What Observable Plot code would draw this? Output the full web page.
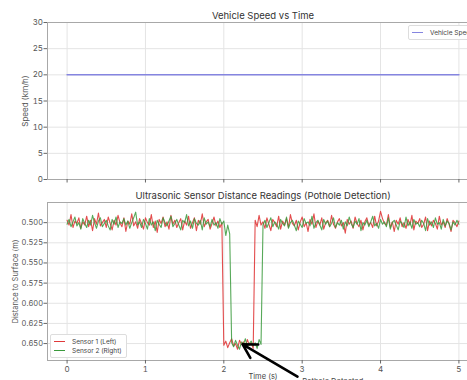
<!DOCTYPE html>
<html>
<head>
<meta charset="utf-8">
<script src="https://cdn.jsdelivr.net/npm/d3@7"></script>
<script src="https://cdn.jsdelivr.net/npm/@observablehq/plot@0.6"></script>
<style>
  html, body { margin: 0; padding: 0; background: #fff; overflow: hidden; }
  #wrap { position: relative; width: 467px; height: 380px; overflow: hidden; font-family: Inter, "Open Sans", sans-serif; }
  #wrap svg { display: block; max-width: none !important; }
  .legend { position: absolute; background: #fff; border: 1px solid #ddd; border-radius: 2px; font-size: 6.5px; color: #444; }
  .legend .row { display: flex; align-items: center; height: 9px; white-space: nowrap; }
  .legend .sw { display: inline-block; width: 11px; height: 0; margin-right: 7px; }
</style>
</head>
<body>
<div id="wrap"></div>
<script>
// ---- data ----
const speedTime = [0, 5];
const speedValues = [20, 20]; // km/h
const xTicks = [0, 1, 2, 3, 4, 5];
const speedTicks = [0, 5, 10, 15, 20, 25, 30];
const distTicks = [0.500, 0.525, 0.550, 0.575, 0.600, 0.625, 0.650];
const sampleStep = 0.025; // s between readings

const sensor1 = [
  0.497,0.503,0.490,0.506,0.498,0.501,0.494,0.507,0.499,0.503,0.492,0.505,0.497,0.510,0.495,0.502,0.488,0.504,0.500,0.496,
  0.506,0.493,0.501,0.509,0.497,0.503,0.491,0.500,0.505,0.494,0.511,0.498,0.502,0.489,0.504,0.499,0.507,0.495,0.501,0.508,
  0.494,0.500,0.503,0.490,0.506,0.498,0.512,0.496,0.501,0.493,0.505,0.499,0.508,0.491,0.502,0.497,0.506,0.500,0.495,0.509,
  0.498,0.503,0.492,0.507,0.500,0.494,0.510,0.497,0.502,0.489,0.505,0.499,0.496,0.508,0.501,0.493,0.504,0.498,0.506,0.500,
  0.652,0.647,0.655,0.649,0.644,0.653,0.650,0.657,0.646,0.651,0.648,0.654,0.645,0.652,0.649,0.656,0.497,0.505,0.491,0.503,
  0.499,0.507,0.494,0.502,0.510,0.496,0.500,0.505,0.492,0.508,0.498,0.503,0.495,0.506,0.490,0.501,0.504,0.497,0.509,0.499,
  0.493,0.505,0.500,0.511,0.496,0.502,0.489,0.506,0.498,0.503,0.494,0.508,0.500,0.497,0.505,0.491,0.502,0.507,0.499,0.495,
  0.504,0.500,0.513,0.496,0.502,0.498,0.507,0.493,0.501,0.505,0.497,0.509,0.499,0.494,0.503,0.500,0.506,0.492,0.504,0.498,
  0.486,0.495,0.501,0.503,0.490,0.506,0.499,0.511,0.497,0.502,0.494,0.505,0.500,0.507,0.496,0.503,0.491,0.509,0.498,0.501,
  0.495,0.506,0.502,0.493,0.510,0.498,0.504,0.497,0.501,0.508,0.492,0.503,0.499,0.506,0.495,0.502,0.511,0.497,0.500,0.505,
  0.498
];
const sensor2 = [
  0.502,0.496,0.505,0.499,0.493,0.504,0.500,0.508,0.495,0.501,0.506,0.497,0.503,0.491,0.500,0.507,0.498,0.494,0.505,0.501,
  0.497,0.504,0.509,0.496,0.502,0.493,0.506,0.499,0.501,0.495,0.503,0.498,0.507,0.500,0.494,0.487,0.503,0.499,0.506,0.496,
  0.501,0.508,0.495,0.503,0.499,0.510,0.497,0.502,0.506,0.494,0.500,0.504,0.498,0.492,0.505,0.501,0.496,0.503,0.509,0.497,
  0.500,0.490,0.504,0.498,0.507,0.495,0.501,0.503,0.497,0.509,0.494,0.502,0.499,0.505,0.496,0.503,0.500,0.507,0.495,0.502,
  0.498,0.516,0.503,0.514,0.649,0.654,0.646,0.652,0.657,0.648,0.651,0.644,0.655,0.650,0.647,0.653,0.649,0.656,0.645,0.651,
  0.503,0.497,0.506,0.500,0.494,0.505,0.499,0.502,0.508,0.496,0.501,0.504,0.493,0.507,0.500,0.497,0.503,0.510,0.498,0.502,
  0.506,0.495,0.501,0.499,0.504,0.492,0.507,0.500,0.497,0.503,0.509,0.496,0.502,0.498,0.505,0.501,0.494,0.506,0.500,0.503,
  0.497,0.508,0.499,0.504,0.493,0.501,0.506,0.498,0.502,0.495,0.510,0.500,0.503,0.497,0.505,0.499,0.492,0.504,0.501,0.507,
  0.496,0.502,0.499,0.505,0.494,0.508,0.500,0.497,0.503,0.509,0.498,0.501,0.506,0.493,0.504,0.499,0.507,0.496,0.502,0.500,
  0.505,0.497,0.501,0.510,0.495,0.503,0.499,0.506,0.494,0.502,0.500,0.508,0.496,0.504,0.498,0.501,0.509,0.499,0.503,0.497,
  0.502
];
const seriesNames = ["Sensor 1 (Left)", "Sensor 2 (Right)"];
const seriesColors = ["#e0393a", "#3a9a3c"];
const speedColor = "#8585e0";
const annotation = { text: "Pothole Detected", tx: 3.0, ty: 0.697, x1: 2.94, y1: 0.691, x2: 2.24, y2: 0.651 };

// ---- build tables ----
const s1 = sensor1.map((d, i) => ({t: i * sampleStep, d, s: seriesNames[0]}));
const s2 = sensor2.map((d, i) => ({t: i * sampleStep, d, s: seriesNames[1]}));
const speed = speedTime.map((t, i) => ({t, v: speedValues[i]}));

const FONT = "Inter, 'Open Sans', sans-serif";
const gridColor = "#e4e4e4";
const frameColor = "#a8a8a8";
const xDomain = [-0.25, 5.25];

const topChart = Plot.plot({
  width: 480, height: 186,
  marginLeft: 47, marginRight: 2, marginTop: 22, marginBottom: 7,
  style: {fontFamily: FONT, fontSize: "8px", color: "#555", background: "#fff", maxWidth: "none"},
  x: {domain: xDomain},
  y: {domain: [0, 30]},
  marks: [
    Plot.gridX(xTicks, {stroke: gridColor, strokeOpacity: 1}),
    Plot.gridY(speedTicks, {stroke: gridColor, strokeOpacity: 1}),
    Plot.frame({stroke: frameColor}),
    Plot.axisX(xTicks, {tickSize: 3.5, tickFormat: () => "", label: null, stroke: "#666"}),
    Plot.axisY(speedTicks, {tickSize: 3.5, tickPadding: 1, label: "Speed (km/h)", labelAnchor: "center", labelOffset: 25, labelArrow: "none", stroke: "#666", fontSize: 8}),
    Plot.line(speed, {x: "t", y: "v", stroke: speedColor, strokeWidth: 1.5}),
    Plot.text(["Vehicle Speed vs Time"], {frameAnchor: "top", dy: -10, fontSize: 9.5, fill: "#333"})
  ]
});

const bottomChart = Plot.plot({
  width: 480, height: 194,
  marginLeft: 47, marginRight: 2, marginTop: 16, marginBottom: 20,
  style: {fontFamily: FONT, fontSize: "8px", color: "#555", background: "#fff", maxWidth: "none"},
  x: {domain: xDomain},
  y: {domain: [0.475, 0.671], reverse: true},
  marks: [
    Plot.gridX(xTicks, {stroke: gridColor, strokeOpacity: 1}),
    Plot.gridY(distTicks, {stroke: gridColor, strokeOpacity: 1}),
    Plot.frame({stroke: frameColor}),
    Plot.axisX(xTicks, {tickSize: 3.5, tickPadding: 2, tickFormat: d3.format("d"), label: null, stroke: "#666", fontSize: 8}),
    Plot.axisY(distTicks, {tickSize: 3.5, tickPadding: 1, tickFormat: d3.format(".3f"), label: "Distance to Surface (m)", labelAnchor: "center", labelOffset: 35, labelArrow: "none", stroke: "#666", fontSize: 7.5}),
    Plot.line(s1, {x: "t", y: "d", stroke: seriesColors[0], strokeWidth: 1.1, strokeOpacity: 0.9}),
    Plot.line(s2, {x: "t", y: "d", stroke: seriesColors[1], strokeWidth: 1.1, strokeOpacity: 0.85}),
    Plot.arrow([annotation], {x1: "x1", y1: "y1", x2: "x2", y2: "y2", stroke: "#000", strokeWidth: 2.6, headLength: 9, clip: false}),
    Plot.text([annotation], {x: "tx", y: "ty", text: "text", textAnchor: "start", fontSize: 7.5, fill: "#444", clip: false}),
    Plot.text(["Time (s)"], {frameAnchor: "bottom", dy: 18, fontSize: 7.5, fill: "#444"}),
    Plot.text(["Ultrasonic Sensor Distance Readings (Pothole Detection)"], {frameAnchor: "top", dy: -10, fontSize: 9.5, fill: "#333"})
  ]
});

const wrap = document.getElementById("wrap");
wrap.appendChild(topChart);
wrap.appendChild(bottomChart);

// legends
function legend(items, left, topPx) {
  const div = document.createElement("div");
  div.className = "legend";
  div.style.left = left + "px";
  div.style.top = topPx + "px";
  div.style.padding = "2px 4px 2px 3px";
  for (const [name, color] of items) {
    const row = document.createElement("div");
    row.className = "row";
    const sw = document.createElement("span");
    sw.className = "sw";
    sw.style.borderTop = `1.5px solid ${color}`;
    row.appendChild(sw);
    row.appendChild(document.createTextNode(name));
    div.appendChild(row);
  }
  wrap.appendChild(div);
}
legend([["Vehicle Speed", speedColor]], 408, 25);
legend(seriesNames.map((n, i) => [n, seriesColors[i]]), 50, 334);
</script>
</body>
</html>
